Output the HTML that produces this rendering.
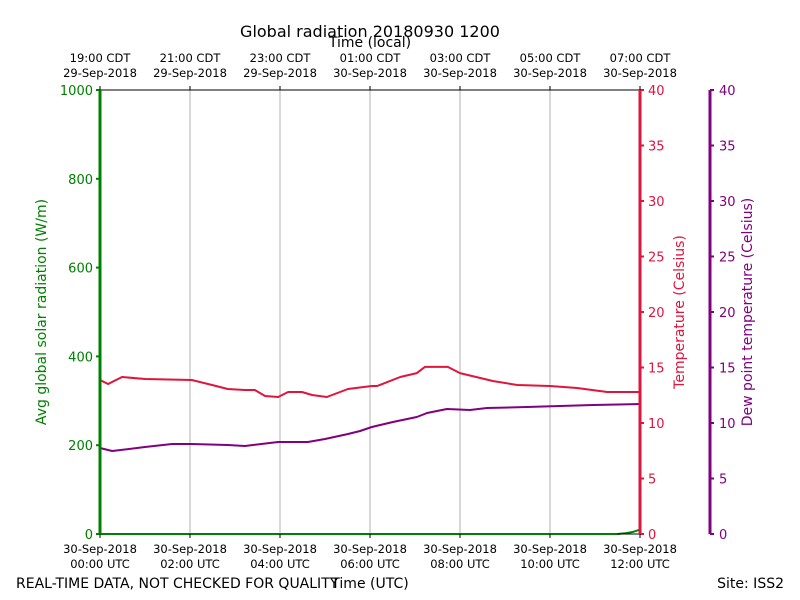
<!DOCTYPE html>
<html><head><meta charset="utf-8"><style>
body{margin:0;background:#fff}
svg{display:block;font-family:"DejaVu Sans","Liberation Sans",sans-serif}
</style></head><body>
<svg id="chart" width="800" height="600" viewBox="0 0 800 600"></svg>
<script>
const tempHours=[0,0.18,0.49,1.0,2.04,2.49,2.84,3.22,3.44,3.67,3.96,4.18,4.49,4.71,5.04,5.51,6.04,6.16,6.67,7.04,7.22,7.73,8.0,8.73,9.27,10.0,10.6,11.27,12];
const tempValues=[13.87,13.51,14.14,13.96,13.87,13.42,13.06,12.97,12.97,12.43,12.34,12.79,12.79,12.52,12.34,13.06,13.33,13.33,14.14,14.5,15.05,15.05,14.5,13.78,13.42,13.33,13.15,12.79,12.79];
const dewHours=[0,0.27,1.0,1.6,2.04,2.84,3.22,3.96,4.62,5.0,5.51,5.78,6.04,6.51,7.04,7.27,7.71,8.22,8.6,9.49,10.22,10.96,12];
const dewValues=[7.75,7.48,7.84,8.11,8.11,8.02,7.93,8.29,8.29,8.56,9.01,9.28,9.64,10.09,10.54,10.9,11.26,11.17,11.35,11.44,11.53,11.62,11.71];
const radHours=[0,11.5,11.7,11.85,12];
const radValues=[0,0,2,5,10];
const leftTicks=[0,200,400,600,800,1000];
const rightTicks=[0,5,10,15,20,25,30,35,40];
const utcLabels=[["30-Sep-2018","00:00 UTC"],["30-Sep-2018","02:00 UTC"],["30-Sep-2018","04:00 UTC"],["30-Sep-2018","06:00 UTC"],["30-Sep-2018","08:00 UTC"],["30-Sep-2018","10:00 UTC"],["30-Sep-2018","12:00 UTC"]];
const localLabels=[["19:00 CDT","29-Sep-2018"],["21:00 CDT","29-Sep-2018"],["23:00 CDT","29-Sep-2018"],["01:00 CDT","30-Sep-2018"],["03:00 CDT","30-Sep-2018"],["05:00 CDT","30-Sep-2018"],["07:00 CDT","30-Sep-2018"]];

const X0=100,X1=640,Y0=534,Y1=90;
const xs=h=>X0+(X1-X0)*h/12;
const yL=v=>Y0-(Y0-Y1)*v/1000;
const yR=v=>Y0-(Y0-Y1)*v/40;
const svg=document.getElementById('chart');
const NS='http://www.w3.org/2000/svg';
function mk(tag,attrs,parent){const e=document.createElementNS(NS,tag);for(const k in attrs)e.setAttribute(k,attrs[k]);(parent||svg).appendChild(e);return e;}
function txt(x,y,s,attrs){const e=mk('text',Object.assign({x:x,y:y},attrs||{}));e.textContent=s;return e;}

for(let i=1;i<6;i++){const g=mk('line',{x1:xs(i*2),x2:xs(i*2),y1:Y1,y2:Y0,stroke:'#b0b0b0','stroke-width':1});

}

function series(hours,vals,yf,color,name,w){
 const d=hours.map((h,i)=>(i?'L':'M')+xs(h).toFixed(1)+','+yf(vals[i]).toFixed(1)).join('');
 const p=mk('path',{d:d,fill:'none',stroke:color,'stroke-width':w,'stroke-linejoin':'round'});
 
 
}
series(tempHours,tempValues,yR,'#e0143c','temperature-line',2);
series(dewHours,dewValues,yR,'#800080','dew-point-line',2);
series(radHours,radValues,yL,'#008000','radiation-line',2);

const sp=[[X0,Y1,X1,Y1,'#000',1],[X0,Y0,X1,Y0,'#000',1],[X0,Y1,X0,Y0,'#008000',3],[X1,Y1,X1,Y0,'#e0143c',3],[710,Y1,710,Y0,'#800080',3]];
sp.forEach(s=>{const l=mk('line',{x1:s[0],y1:s[1],x2:s[2],y2:s[3],stroke:s[4],'stroke-width':s[5]});

});
mk('line',{x1:X0,y1:Y0,x2:xs(11.5),y2:Y0,stroke:'#008000','stroke-width':2});

leftTicks.forEach(v=>{mk('line',{x1:X0-4,x2:X0,y1:yL(v),y2:yL(v),stroke:'#008000','stroke-width':2});
const t=txt(X0-7,yL(v)+5,String(v),{'text-anchor':'end','font-size':13,fill:'#008000'});

});
rightTicks.forEach(v=>{
 mk('line',{x1:X1,x2:X1+4,y1:yR(v),y2:yR(v),stroke:'#e0143c','stroke-width':2});
 const t=txt(X1+8,yR(v)+5,String(v),{'font-size':13,fill:'#e0143c'});
 
 
 mk('line',{x1:710,x2:714,y1:yR(v),y2:yR(v),stroke:'#800080','stroke-width':2});
 const u=txt(719,yR(v)+5,String(v),{'font-size':13,fill:'#800080'});
 
 
});
utcLabels.forEach((l,i)=>{const x=xs(i*2);
 mk('line',{x1:x,x2:x,y1:Y0,y2:Y0+4,stroke:'#000'});
 mk('line',{x1:x,x2:x,y1:Y1,y2:Y1-4,stroke:'#000'});
 const a=txt(x,553,l[0],{'text-anchor':'middle','font-size':11.5});
 
 
 txt(x,568,l[1],{'text-anchor':'middle','font-size':11.5});
 const b=txt(x,62,localLabels[i][0],{'text-anchor':'middle','font-size':11.5});
 
 
 txt(x,77,localLabels[i][1],{'text-anchor':'middle','font-size':11.5});
});
</script>
<script>
(function(){
const svg=document.getElementById('chart');const NS='http://www.w3.org/2000/svg';
function t(x,y,s,a,name){const e=document.createElementNS(NS,'text');e.setAttribute('x',x);e.setAttribute('y',y);for(const k in a)e.setAttribute(k,a[k]);e.textContent=s;


svg.appendChild(e);}
t(370,37,'Global radiation 20180930 1200',{'text-anchor':'middle','font-size':16},'chart-title');
t(370,47,'Time (local)',{'text-anchor':'middle','font-size':14},'top-axis-title');
t(370,588,'Time (UTC)',{'text-anchor':'middle','font-size':14},'x-axis-title');
t(16,588,'REAL-TIME DATA, NOT CHECKED FOR QUALITY',{'font-size':14},'quality-note');
t(784,588,'Site: ISS2',{'text-anchor':'end','font-size':14},'site-label');
t(46,312,'Avg global solar radiation (W/m)',{'text-anchor':'middle','font-size':14,fill:'#008000',transform:'rotate(-90 46 312)'},'left-axis-title');
t(684,312,'Temperature (Celsius)',{'text-anchor':'middle','font-size':14,fill:'#e0143c',transform:'rotate(-90 684 312)'},'temp-axis-title');
t(752,312,'Dew point temperature (Celsius)',{'text-anchor':'middle','font-size':14,fill:'#800080',transform:'rotate(-90 752 312)'},'dew-axis-title');
})();
</script>
</body></html>
